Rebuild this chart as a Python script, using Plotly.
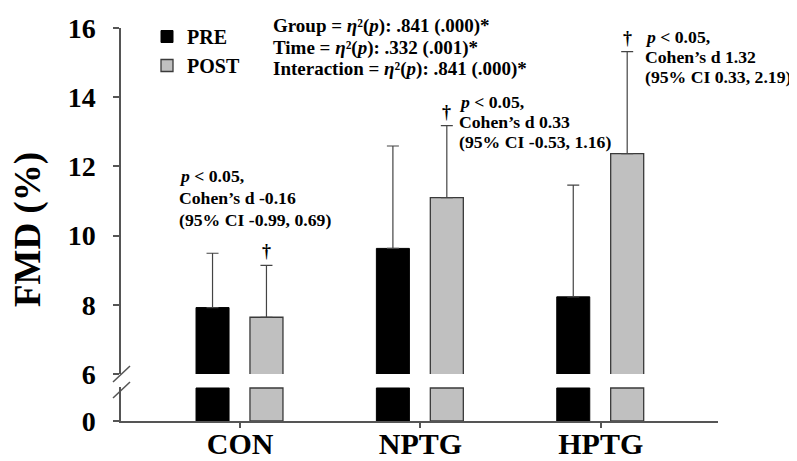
import plotly.graph_objects as go

# ---- data ----
groups = ["CON", "NPTG", "HPTG"]
group_pos = [1, 2, 3]
pre_mean = [7.92, 9.63, 8.23]
pre_sd = [1.57, 2.96, 3.23]
post_mean = [7.64, 11.10, 12.37]
post_sd = [1.50, 2.08, 2.95]
series_names = ["PRE", "POST"]
upper_ticks = [6, 8, 10, 12, 14, 16]
lower_ticks = [0]
stats_lines = [
    "Group = <i>η</i>²(<i>p</i>): .841 (.000)*",
    "Time = <i>η</i>²(<i>p</i>): .332 (.001)*",
    "Interaction = <i>η</i>²(<i>p</i>): .841 (.000)*",
]
effect_texts = [
    ["<i>p</i> < 0.05,", "Cohen’s d -0.16", "(95% CI -0.99, 0.69)"],
    ["<i>p</i> < 0.05,", "Cohen’s d 0.33", "(95% CI -0.53, 1.16)"],
    ["<i>p</i> < 0.05,", "Cohen’s d 1.32", "(95% CI 0.33, 2.19)"],
]
BREAK_LO = 1.0   # top of the lower axis segment
BREAK_HI = 6     # bottom of the upper axis segment

FONT = "Liberation Serif, Times New Roman, serif"
AX = "#555555"
PAGE_OFF = 8                      # default page margin around the plot div
W, H = 797 - PAGE_OFF, 461
PL, PR, PT, PB = 121, 718, 28, 421   # plot area edges in window pixels
ML, MR, MT = PL - PAGE_OFF, 797 - PR, PT - PAGE_OFF
MB = H + PAGE_OFF - PB
BAR_W = 0.183
OFF_PRE, OFF_POST = -0.244, 0.055

fig = go.Figure()

# upper segment bars
fig.add_trace(go.Bar(
    x=group_pos, y=pre_mean, name=series_names[0], xaxis="x", yaxis="y2",
    width=BAR_W, offset=OFF_PRE, base=0,
    marker=dict(color="black", line=dict(color="black", width=1)),
    error_y=dict(type="data", array=pre_sd, arrayminus=[0] * 3, symmetric=False,
                 color="#444444", thickness=1.2, width=6),
))
fig.add_trace(go.Bar(
    x=group_pos, y=post_mean, name=series_names[1], xaxis="x", yaxis="y2",
    width=BAR_W, offset=OFF_POST, base=0,
    marker=dict(color="#c0c0c0", line=dict(color="#3a3a3a", width=1.3)),
    error_y=dict(type="data", array=post_sd, arrayminus=[0] * 3, symmetric=False,
                 color="#444444", thickness=1.2, width=6),
))
# lower segment bars (same values, cut at the break)
fig.add_trace(go.Bar(
    x=group_pos, y=[min(v, BREAK_LO) for v in pre_mean], showlegend=False,
    xaxis="x", yaxis="y", width=BAR_W, offset=OFF_PRE,
    marker=dict(color="black", line=dict(color="black", width=1)),
))
fig.add_trace(go.Bar(
    x=group_pos, y=[min(v, BREAK_LO) for v in post_mean], showlegend=False,
    xaxis="x", yaxis="y", width=BAR_W, offset=OFF_POST,
    marker=dict(color="#c0c0c0", line=dict(color="#3a3a3a", width=1.3)),
))

plot_h = PB - PT
pw = PR - PL
lower_top = (PB - 387) / plot_h
upper_bot = (PB - 374) / plot_h


def px2x(px):
    return (px - PL) / pw


def py2y(py):
    return (PB - py) / plot_h


annotations = []
# stats text
for i, line in enumerate(stats_lines):
    annotations.append(dict(
        text=line, xref="x", yref="paper", x=1.17, y=py2y(26 + 21.5 * i),
        xanchor="left", yanchor="middle", showarrow=False,
        font=dict(family=FONT, size=19, color="black", weight="bold"),
    ))
# daggers above the POST error bars
for gp, m, s in zip(group_pos, post_mean, post_sd):
    annotations.append(dict(
        text="†", xref="x", yref="y2", x=gp + OFF_POST + BAR_W / 2, y=m + s,
        xanchor="center", yanchor="middle", yshift=14, showarrow=False,
        font=dict(family=FONT, size=18, color="black", weight="bold"),
    ))
# effect size texts (left x in data units, first-line y in data units)
effect_pos = [(0.673, 11.72, 22), (2.225, 13.85, 20), (3.256, 15.75, 20)]
for (tx, ty, gap), lines in zip(effect_pos, effect_texts):
    for j, line in enumerate(lines):
        annotations.append(dict(
            text=line, xref="x", yref="y2", x=tx, y=ty, yshift=-gap * j, xshift=-4,
            xanchor="left", yanchor="middle", showarrow=False,
            font=dict(family=FONT, size=17.7, color="black", weight="bold"),
        ))
# y-axis title
annotations.append(dict(
    text="FMD (%)", xref="paper", yref="paper", x=px2x(28),
    y=py2y(230), textangle=-90, showarrow=False,
    xanchor="center", yanchor="middle",
    font=dict(family=FONT, size=37, color="black", weight="bold"),
))

shapes = []
for cy in (374, 390):
    shapes.append(dict(type="line", xref="paper", yref="paper",
                       x0=px2x(113), y0=py2y(cy + 8), x1=px2x(130), y1=py2y(cy - 8),
                       line=dict(color=AX, width=1.5)))

fig.update_layout(
    width=W, height=H,
    margin=dict(l=ML, r=MR, t=MT, b=MB, pad=0, autoexpand=False),
    paper_bgcolor="white", plot_bgcolor="white",
    barmode="overlay",
    showlegend=True,
    legend=dict(x=px2x(147), y=py2y(17), xanchor="left", yanchor="top",
                bgcolor="rgba(0,0,0,0)", tracegroupgap=0,
                font=dict(family=FONT, size=20, color="black", weight="bold")),
    xaxis=dict(domain=[0, 1], range=[0.34, 3.65], anchor="y", automargin=False,
               tickvals=group_pos, ticktext=groups,
               showline=True, linecolor=AX, linewidth=1.5,
               ticks="outside", ticklen=5, tickcolor=AX, tickwidth=1.5,
               showgrid=False, zeroline=False, ticklabelstandoff=-10,
               tickfont=dict(family=FONT, size=30, color="black", weight="bold")),
    yaxis=dict(domain=[0, lower_top], range=[0, BREAK_LO * 1.03], anchor="x", automargin=False,
               tickvals=lower_ticks, showline=True, linecolor=AX, linewidth=1.5,
               ticks="outside", ticklen=6, tickcolor=AX, tickwidth=1.5,
               showgrid=False, zeroline=False, ticklabelstandoff=12,
               tickfont=dict(family=FONT, size=28, color="black", weight="bold")),
    yaxis2=dict(domain=[upper_bot, 1], range=[BREAK_HI, 16], anchor="x", automargin=False,
                tickvals=upper_ticks, showline=True, linecolor=AX, linewidth=1.5,
                ticks="outside", ticklen=6, tickcolor=AX, tickwidth=1.5,
                showgrid=False, zeroline=False, ticklabelstandoff=12,
                tickfont=dict(family=FONT, size=28, color="black", weight="bold")),
    annotations=annotations,
    shapes=shapes,
)

fig.write_html("out.html")
